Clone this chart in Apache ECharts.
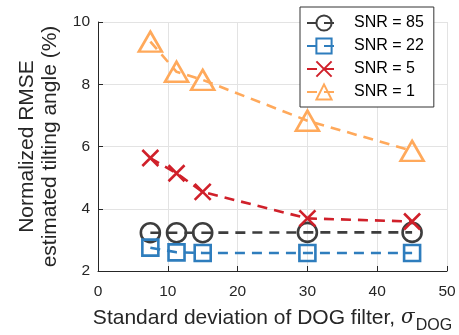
<!DOCTYPE html>
<html>
<head>
<meta charset="utf-8">
<script src="https://cdn.jsdelivr.net/npm/echarts@6/dist/echarts.min.js"></script>
<style>
  html, body { margin: 0; padding: 0; background: #fff; }
  #main { width: 459px; height: 335px; }
</style>
</head>
<body>
<div id="main"></div>
<script>
const sigma = [7.5, 11.25, 15, 30, 45];
const snr85 = [3.23, 3.23, 3.23, 3.24, 3.24];
const snr22 = [2.75, 2.6, 2.58, 2.58, 2.58];
const snr5 = [5.63, 5.14, 4.54, 3.69, 3.59];
const snr1 = [9.37, 8.4, 8.14, 6.83, 5.86];
const xTicks = [0, 10, 20, 30, 40, 50];
const yTicks = [2, 4, 6, 8, 10];

const font = "Liberation Sans, Arial, sans-serif";
const crossPath = "path://M0,0L10,10M10,0L0,10";

function pairs(ys) {
    return sigma.map((x, i) => [x, ys[i]]);
}

function makeSeries(name, ys, color, symbol, size) {
    return {
        name: name,
        type: "line",
        data: pairs(ys),
        symbol: symbol,
        symbolSize: size,
        showAllSymbol: true,
        z: 3,
        lineStyle: { color: color, width: 2.6, type: [10, 7] },
        itemStyle: { color: "rgba(0,0,0,0)", borderColor: color, borderWidth: 2.6 },
        emphasis: { disabled: true }
    };
}

const chart = echarts.init(document.getElementById("main"));

option = {
    animation: false,
    grid: { left: 98, right: 12, top: 22, bottom: 64, containLabel: false, outerBoundsMode: "none" },
    legend: {
        left: 300,
        top: 7,
        orient: "vertical",
        padding: [6, 10, 5, 6],
        itemGap: 3,
        itemWidth: 34,
        itemHeight: 19,
        backgroundColor: "#fff",
        borderColor: "#333",
        borderWidth: 1,
        textStyle: { fontFamily: font, fontSize: 16, color: "#000", lineHeight: 20, padding: [0, 0, 0, 8] },
        data: ["SNR = 85", "SNR = 22", "SNR = 5", "SNR = 1"]
    },
    xAxis: {
        type: "value",
        min: 0,
        max: 50,
        interval: 10,
        name: "Standard deviation of DOG filter, {s|σ}{sub|DOG}",
        nameLocation: "middle",
        nameGap: 31,
        nameTextStyle: {
            fontFamily: font,
            fontSize: 21,
            color: "#262626",
            rich: {
                s: { fontFamily: "DejaVu Serif, serif", fontStyle: "italic", fontSize: 20, color: "#262626" },
                sub: { fontFamily: font, fontSize: 16, color: "#262626", padding: [16, 0, 0, 1] }
            }
        },
        axisLine: { show: true, lineStyle: { color: "#262626", width: 1 } },
        axisTick: { show: true, inside: true, length: 5, lineStyle: { color: "#262626" } },
        axisLabel: {
            fontFamily: font, fontSize: 15.5, color: "#262626", margin: 13,
            formatter: (v) => xTicks.includes(v) ? String(v) : ""
        },
        splitLine: { show: true, lineStyle: { color: "#e3e3e3", width: 1 } }
    },
    yAxis: {
        type: "value",
        min: 2,
        max: 10,
        interval: 2,
        name: "Normalized RMSE\nestimated tilting angle (%)",
        nameLocation: "middle",
        nameRotate: 90,
        nameGap: 30,
        nameTextStyle: { fontFamily: font, fontSize: 21, color: "#262626", lineHeight: 23 },
        axisLine: { show: true, lineStyle: { color: "#262626", width: 1 } },
        axisTick: { show: true, inside: true, length: 5, lineStyle: { color: "#262626" } },
        axisLabel: {
            fontFamily: font, fontSize: 15.5, color: "#262626", margin: 8,
            formatter: (v) => yTicks.includes(v) ? String(v) : ""
        },
        splitLine: { show: true, lineStyle: { color: "#e3e3e3", width: 1 } }
    },
    series: [
        makeSeries("SNR = 85", snr85, "#3d3d3d", "circle", 19),
        makeSeries("SNR = 22", snr22, "#2e7dbd", "rect", 16),
        makeSeries("SNR = 5", snr5, "#d0202a", crossPath, 16),
        makeSeries("SNR = 1", snr1, "#ffa95b", "triangle", [23, 20])
    ]
};

chart.setOption(option);
</script>
</body>
</html>
